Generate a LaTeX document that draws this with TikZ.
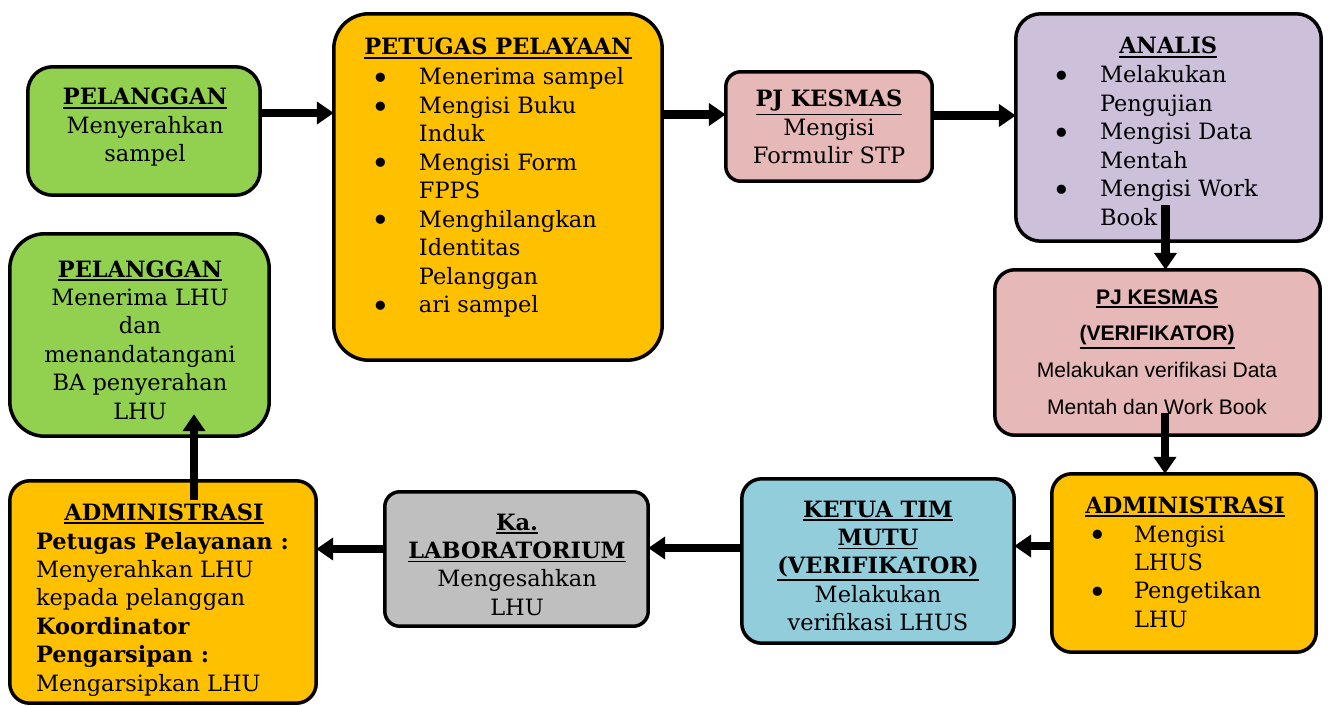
\documentclass[tikz,border=0pt]{standalone}
\usepackage{fontspec}
\setmainfont{DejaVu Serif}
\newfontfamily\sansf{Liberation Sans}
\usetikzlibrary{arrows.meta,calc}
\definecolor{cgreen}{HTML}{92D050}
\definecolor{corange}{HTML}{FFC000}
\definecolor{cpink}{HTML}{E6B8B7}
\definecolor{clav}{HTML}{CCC0DA}
\definecolor{cblue}{HTML}{92CDDC}
\definecolor{cgray}{HTML}{BFBFBF}
\newcommand{\ulx}[1]{\leavevmode\setbox0\hbox{#1}\rlap{\rule[-\dimexpr\dp0+2pt\relax]{\wd0}{0.9pt}}\box0}
\newcommand{\hd}[1]{\ulx{\textbf{#1}}}
\newcommand{\bu}{\smash{\raisebox{-2.6pt}{\fontsize{18}{16.2}\selectfont\textbullet}}}
\begin{document}
\begin{tikzpicture}[x=0.02cm,y=-0.02cm,
  box/.style={draw=black, line width=0.07cm, rounded corners=#1, inner sep=0pt, outer sep=0pt},
  box/.default=0.4cm,
  txt/.style={inner sep=0pt, outer sep=0pt, font=\fontsize{12.8}{16.2}\selectfont},
  stxt/.style={inner sep=0pt, outer sep=0pt, font=\sansf\fontsize{12}{21}\selectfont},
  arr/.style={line width=0.17cm, -{Triangle[length=0.34cm,width=0.44cm]}}]
\fill[white] (0,0) rectangle (1331,706);
\useasboundingbox (0,0) rectangle (1331,706);

% boxes
\node[box=0.5cm, fill=cgreen, minimum width=4.65cm, minimum height=2.57cm] (P1) at (144,131) {};
\node[box=0.7cm, fill=corange, minimum width=6.57cm, minimum height=6.93cm] (PET) at (498,187) {};
\node[box=0.3cm, fill=cpink, minimum width=4.13cm, minimum height=2.19cm] (PJK) at (829,126.5) {};
\node[box=0.5cm, fill=clav, minimum width=6.11cm, minimum height=4.55cm] (ANA) at (1168.5,127.5) {};
\node[box=0.4cm, fill=cpink, minimum width=6.51cm, minimum height=3.31cm] (PJV) at (1157.5,352.5) {};
\node[box=0.4cm, fill=corange, minimum width=5.29cm, minimum height=3.57cm] (ADR) at (1184,563) {};
\node[box=0.4cm, fill=cblue, minimum width=5.45cm, minimum height=3.29cm] (KET) at (878,561) {};
\node[box=0.3cm, fill=cgray, minimum width=5.27cm, minimum height=2.69cm] (LAB) at (516.5,559) {};
\node[box=0.4cm, fill=corange, minimum width=6.13cm, minimum height=4.45cm] (ADL) at (163,592) {};
\node[box=0.7cm, fill=cgreen, minimum width=5.19cm, minimum height=4.05cm] (P2) at (139.5,335) {};

% texts
\node[txt, anchor=base] (P1t) at (145,105) {\begin{tabular}[t]{@{}c@{}}\hd{PELANGGAN}\\Menyerahkan\\sampel\end{tabular}};

\node[txt, anchor=base] (PETh) at (498,55) {\hd{PETUGAS PELAYAAN}};
\node[txt, anchor=base west] (PETt) at (371,85) {\begin{tabular}[t]{@{}p{0.96cm}@{}l@{}}
\bu & Menerima sampel\\ \bu & Mengisi Buku\\ & Induk\\ \bu & Mengisi Form\\ & FPPS\\
\bu & Menghilangkan\\ & Identitas\\ & Pelanggan\\ \bu & ari sampel\end{tabular}};

\node[txt, anchor=base] (PJKt) at (829,107) {\begin{tabular}[t]{@{}c@{}}\hd{PJ KESMAS}\\Mengisi\\Formulir STP\end{tabular}};

\node[txt, anchor=base] (ANAh) at (1168,54) {\hd{ANALIS}};
\node[txt, anchor=base west] (ANAt) at (1052,83) {\begin{tabular}[t]{@{}p{0.96cm}@{}l@{}}
\bu & Melakukan\\ & Pengujian\\ \bu & Mengisi Data\\ & Mentah\\ \bu & Mengisi Work\\ & Book\end{tabular}};

\node[stxt, anchor=base] (PJVt) at (1157,304) {\begin{tabular}[t]{@{}c@{}}\hd{PJ KESMAS}\\\hd{(VERIFIKATOR)}\\Melakukan verifikasi Data\\Mentah dan Work Book\end{tabular}};

\node[txt, anchor=base] (ADRh) at (1185,513) {\hd{ADMINISTRASI}};
\node[txt, anchor=base west] (ADRt) at (1088,542) {\begin{tabular}[t]{@{}p{0.92cm}@{}l@{}}
\bu & Mengisi\\ & LHUS\\ \bu & Pengetikan\\ & LHU\end{tabular}};

\node[txt, anchor=base] (KETt) at (878,517) {\begin{tabular}[t]{@{}c@{}}\hd{KETUA TIM}\\\hd{MUTU}\\\hd{(VERIFIKATOR)}\\Melakukan\\verifikasi LHUS\end{tabular}};

\node[txt, anchor=base] (LABt) at (517,530) {\begin{tabular}[t]{@{}c@{}}\hd{Ka.}\\\hd{LABORATORIUM}\\Mengesahkan\\LHU\end{tabular}};

\node[txt, anchor=base] (ADLh) at (164,520) {\hd{ADMINISTRASI}};
\node[txt, anchor=base west] (ADLt) at (36,549) {\begin{tabular}[t]{@{}l@{}}
\textbf{Petugas Pelayanan :}\\Menyerahkan LHU\\kepada pelanggan\\\textbf{Koordinator}\\\textbf{Pengarsipan :}\\Mengarsipkan LHU\end{tabular}};

\node[txt, anchor=base] (P2t) at (140,277) {\begin{tabular}[t]{@{}c@{}}\hd{PELANGGAN}\\Menerima LHU\\dan\\menandatangani\\BA penyerahan\\LHU\end{tabular}};

% arrows
\coordinate (t1) at ($(P1.east)+(0,-18)$);
\draw[arr] (t1) -- (t1 -| PET.west);
\coordinate (t2) at ($(PJK.west)+(0,-12)$);
\draw[arr] (t2 -| PET.east) -- (t2);
\coordinate (t3) at ($(PJK.east)+(0,-11)$);
\draw[arr] (t3) -- (t3 -| ANA.west);
\coordinate (t4) at ($(ANA.south)+(-3,-36)$);
\draw[arr] (t4) -- (t4 |- PJV.north);
\coordinate (t5) at ($(PJV.south)+(7.5,-22)$);
\draw[arr] (t5) -- (t5 |- ADR.north);
\coordinate (t6) at ($(ADR.west)+(0,-17)$);
\draw[arr] (t6) -- (t6 -| KET.east);
\coordinate (t7) at ($(KET.west)+(0,-13)$);
\draw[arr] (t7) -- (t7 -| LAB.east);
\coordinate (t8) at ($(LAB.west)+(0,-10)$);
\draw[arr] (t8) -- (t8 -| ADL.east);
\coordinate (t9) at ($(ADL.north)+(31,19)$);
\draw[arr] (t9) -- ($(t9 |- P2.south)+(0,-22)$);
\end{tikzpicture}
\end{document}
